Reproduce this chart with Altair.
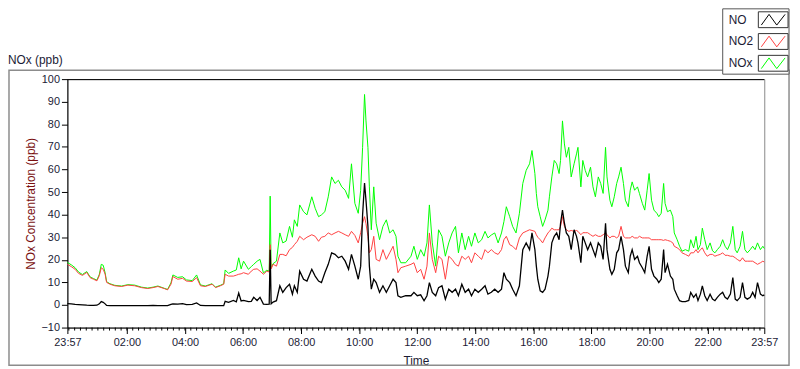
import altair as alt
import pandas as pd

# ---------------- data (minutes after 23:57, ppb) ----------------
t_min = [0, 8, 16, 23, 31, 40, 47, 54, 61, 66,
         70, 74, 78, 81, 88, 98, 112, 125, 139, 153,
         166, 177, 187, 200, 207, 214, 218, 228, 238, 246,
         258, 267, 275, 285, 299, 306, 316, 323, 326, 333,
         343, 349, 354, 359, 364, 374, 380, 385, 392, 398,
         405, 412, 417, 419, 421, 425, 432, 439, 445, 452,
         459, 465, 469, 475, 480, 488, 495, 505, 512, 519,
         525, 532, 539, 546, 553, 560, 567, 574, 581, 587,
         594, 601, 606, 610, 614, 617, 621, 624, 628, 633,
         638, 645, 652, 659, 666, 673, 679, 683, 689, 699,
         710, 716, 723, 730, 737, 743, 748, 754, 761, 767,
         774, 781, 788, 795, 802, 808, 815, 822, 829, 835,
         842, 849, 856, 863, 869, 876, 883, 890, 897, 902,
         907, 914, 920, 927, 934, 941, 948, 955, 960, 966,
         969, 972, 977, 982, 987, 993, 996, 1001, 1006, 1011,
         1016, 1019, 1023, 1027, 1031, 1036, 1041, 1047, 1052, 1055,
         1061, 1065, 1070, 1075, 1081, 1086, 1091, 1097, 1102, 1107,
         1112, 1115, 1121, 1125, 1130, 1135, 1139, 1144, 1149, 1153,
         1159, 1163, 1167, 1172, 1178, 1182, 1188, 1193, 1198, 1202,
         1207, 1212, 1218, 1222, 1227, 1232, 1235, 1240, 1246, 1251,
         1254, 1260, 1265, 1270, 1277, 1284, 1288, 1294, 1299, 1303,
         1308, 1312, 1317, 1322, 1328, 1333, 1338, 1343, 1349, 1354,
         1359, 1364, 1370, 1375, 1380, 1384, 1390, 1395, 1400, 1405,
         1411, 1416, 1421, 1426, 1432, 1437, 1440]

no_ppb = [0.6, 0.5, 0.3, 0.2, 0.1, -0.1, -0.2, -0.2, -0.1, 0.5,
          1.5, 1.2, 0.5, -0.2, -0.3, -0.3, -0.3, -0.3, -0.3, -0.3,
          -0.3, -0.2, -0.3, -0.3, -0.3, 0.3, 0.5, 0.4, 0.6, 0.2,
          0.3, 0.9, -0.2, -0.3, -0.3, -0.3, -0.3, -0.3, 1.6, 1.2,
          2.0, 1.4, 5.3, 1.8, 2.0, 1.5, 1.6, 3.4, 2.0, 3.4,
          0.4, 0.3, 0.4, 24.5, 0.5, 1.3, 1.9, 8.5, 5.6, 7.7,
          9.2, 4.8, 8.5, 5.6, 15.0, 11.4, 10.6, 15.8, 12.8, 10.6,
          9.9, 14.3, 18.0, 23.1, 22.4, 20.9, 21.6, 19.4, 15.8, 22.4,
          17.2, 11.4, 17.2, 40.0, 54.0, 46.4, 34.8, 17.2, 7.0, 11.4,
          9.9, 5.6, 8.5, 5.6, 8.5, 11.4, 9.9, 4.1, 3.4, 4.1,
          4.1, 5.6, 4.1, 4.5, 1.9, 4.1, 9.9, 5.6, 4.1, 7.7,
          8.5, 2.6, 7.0, 5.6, 7.0, 4.1, 9.2, 5.6, 7.0, 4.1,
          7.0, 5.6, 7.0, 8.5, 4.8, 5.6, 7.0, 5.6, 7.0, 14.3,
          11.4, 9.9, 7.0, 4.1, 8.5, 24.5, 27.5, 24.5, 31.9, 24.5,
          17.2, 11.4, 6.3, 5.6, 7.0, 12.8, 17.2, 27.5, 30.4, 31.9,
          28.9, 36.2, 42.0, 36.2, 31.9, 30.4, 24.5, 33.3, 30.4, 27.5,
          18.7, 30.4, 27.5, 24.5, 27.5, 24.5, 21.6, 27.5, 26.0, 20.2,
          36.2, 24.5, 15.8, 13.6, 15.8, 23.1, 24.5, 30.4, 24.5, 17.2,
          14.3, 21.6, 24.5, 20.2, 21.6, 18.7, 16.5, 14.3, 21.6, 26.0,
          15.8, 12.8, 11.4, 9.9, 11.4, 24.5, 14.3, 18.0, 12.8, 11.4,
          7.0, 4.1, 1.9, 1.5, 1.5, 2.0, 5.6, 3.4, 4.8, 2.0,
          4.8, 8.5, 4.1, 2.0, 4.8, 2.6, 1.9, 3.4, 4.8, 5.6,
          3.4, 2.6, 4.8, 12.1, 2.6, 1.9, 3.4, 9.9, 3.4, 2.6,
          3.4, 5.6, 3.4, 9.9, 4.8, 4.1, 4.5]

no2_ppb = [18.0, 17.0, 15.8, 14.0, 13.1, 14.4, 12.1, 11.4, 10.7, 13.0,
           16.5, 15.8, 13.6, 10.0, 9.2, 8.5, 8.2, 8.8, 8.5, 7.7,
           7.3, 7.7, 8.2, 7.3, 6.7, 9.2, 12.6, 11.4, 11.8, 10.6,
           10.4, 12.1, 8.5, 8.2, 9.2, 7.7, 8.5, 9.2, 13.6, 12.8,
           12.8, 13.2, 13.6, 13.8, 14.3, 13.6, 15.0, 15.8, 16.0, 15.0,
           13.6, 15.0, 14.6, 26.7, 16.0, 18.0, 17.2, 22.4, 22.4, 21.8,
           24.5, 25.5, 26.7, 28.2, 30.4, 28.9, 30.0, 31.1, 30.4, 28.2,
           30.0, 30.4, 31.9, 31.1, 31.9, 32.6, 31.9, 31.1, 30.4, 32.6,
           30.8, 27.5, 32.0, 36.2, 39.1, 36.0, 30.4, 23.1, 24.5, 30.4,
           20.2, 19.4, 24.5, 20.2, 23.1, 26.0, 20.2, 14.3, 16.5, 17.2,
           18.0, 18.7, 14.3, 15.8, 11.4, 17.2, 31.9, 20.2, 14.3, 21.6,
           20.2, 11.4, 21.6, 20.2, 18.0, 17.2, 21.6, 20.2, 21.6, 18.7,
           23.1, 21.6, 20.2, 24.5, 23.1, 24.5, 23.1, 22.4, 24.5, 28.9,
           30.4, 26.7, 26.0, 24.5, 29.7, 31.9, 32.6, 33.3, 33.0, 32.6,
           31.1, 30.0, 28.9, 27.5, 29.7, 31.9, 32.6, 34.0, 33.3, 33.3,
           33.3, 34.8, 39.1, 34.8, 33.3, 32.6, 33.0, 32.6, 33.0, 32.6,
           31.1, 32.0, 32.0, 32.0, 31.1, 30.4, 31.1, 30.4, 30.4, 31.1,
           32.0, 31.1, 29.7, 30.4, 30.4, 29.7, 30.4, 34.8, 30.4, 29.7,
           29.7, 29.7, 30.4, 29.7, 29.7, 30.4, 29.7, 29.7, 29.7, 29.7,
           28.9, 28.9, 28.9, 28.9, 28.9, 28.6, 28.9, 28.6, 28.2, 27.5,
           26.0, 25.3, 24.5, 23.1, 22.4, 21.6, 23.1, 23.1, 24.5, 23.1,
           24.5, 25.3, 23.1, 21.6, 22.4, 22.4, 21.6, 22.0, 22.4, 23.1,
           22.0, 22.0, 21.6, 21.6, 20.9, 20.2, 19.4, 20.9, 19.4, 19.4,
           19.4, 19.4, 18.7, 18.0, 18.7, 19.4, 19.0]

nox_ppb = [18.8, 17.8, 16.5, 14.6, 13.5, 14.8, 12.4, 11.7, 11.0, 13.6,
           18.0, 17.6, 14.2, 10.3, 9.4, 8.7, 8.4, 9.0, 8.8, 7.9,
           7.5, 7.9, 8.4, 7.4, 6.9, 9.8, 13.3, 12.2, 12.5, 11.1,
           10.8, 13.3, 8.9, 8.4, 9.4, 7.9, 8.7, 9.4, 15.5, 14.0,
           15.0, 15.5, 20.9, 16.0, 19.4, 15.8, 17.0, 18.0, 19.4, 20.2,
           14.2, 15.4, 15.0, 48.2, 16.5, 18.3, 19.4, 31.9, 27.5, 28.3,
           34.8, 30.0, 37.7, 34.8, 44.3, 41.3, 39.9, 47.9, 42.8, 39.1,
           39.9, 41.3, 47.9, 56.7, 53.8, 55.2, 52.3, 50.8, 47.2, 62.5,
           45.0, 40.6, 50.8, 69.8, 93.2, 81.5, 69.8, 52.3, 33.3, 52.3,
           36.2, 28.9, 34.8, 37.7, 31.9, 33.3, 30.4, 21.6, 18.7, 18.7,
           21.6, 26.0, 20.2, 24.5, 21.6, 27.5, 44.3, 27.5, 17.2, 33.3,
           30.4, 21.6, 27.5, 31.9, 34.8, 23.1, 31.9, 24.5, 30.4, 26.0,
           31.9, 27.5, 28.9, 32.6, 29.7, 31.0, 31.9, 27.5, 31.9, 36.9,
           43.5, 39.1, 34.8, 31.9, 40.6, 53.8, 59.6, 62.5, 68.4, 58.2,
           49.4, 43.5, 39.1, 34.8, 37.7, 42.0, 47.9, 56.7, 64.0, 62.5,
           58.2, 64.0, 81.5, 71.3, 65.4, 69.8, 56.7, 62.5, 66.9, 69.8,
           52.3, 64.0, 59.6, 56.7, 61.0, 52.3, 47.9, 56.7, 53.8, 49.4,
           69.8, 56.7, 46.4, 43.5, 47.9, 53.8, 56.7, 61.0, 53.8, 46.4,
           43.5, 50.8, 54.5, 50.8, 52.3, 49.4, 45.0, 42.0, 50.8, 58.2,
           46.4, 42.0, 40.6, 39.1, 40.6, 53.8, 45.0, 41.3, 42.0, 39.1,
           31.9, 28.9, 26.0, 23.8, 24.5, 23.8, 28.9, 25.3, 30.4, 24.5,
           26.7, 34.0, 28.9, 24.5, 27.5, 24.0, 23.1, 24.5, 26.0, 28.9,
           26.0, 24.5, 27.5, 34.8, 24.5, 23.1, 26.0, 32.6, 24.5, 23.1,
           24.5, 26.0, 24.5, 27.5, 24.5, 26.0, 25.0]

tick_vals = [0, 123, 243, 363, 483, 603, 723, 843, 963, 1083, 1203, 1323, 1440]
tick_labels = ["23:57", "02:00", "04:00", "06:00", "08:00", "10:00", "12:00",
               "14:00", "16:00", "18:00", "20:00", "22:00", "23:57"]
minor_ticks = list(range(3, 1440, 12))
y_ticks = list(range(-10, 101, 10))

series_names = ["NO", "NO2", "NOx"]
series_colors = ["#000000", "#ff4040", "#00ff00"]

# ---------------- chart ----------------
W, H = 704, 251
FONT = "Liberation Sans"
TXT = "#1b1b35"

df = pd.DataFrame({"t": t_min, "NO": no_ppb, "NO2": no2_ppb, "NOx": nox_ppb})
one = pd.DataFrame({"k": [0]})

x_scale = alt.Scale(domain=[0, 1440], nice=False, zero=False)
y_scale = alt.Scale(domain=[-10, 100], nice=False, zero=False)

label_expr = ("[" + ",".join("'%s'" % s for s in tick_labels) + "][indexof(["
              + ",".join(str(v) for v in tick_vals) + "], datum.value)]")

x_axis = alt.Axis(values=tick_vals, labelExpr=label_expr, title="Time",
                  titleX=W / 2, titleY=33, titleAlign="center", titleBaseline="middle",
                  titleFontWeight="normal", titleFontSize=12, titleColor=TXT, titleFont=FONT,
                  labelOverlap=False, labelFlush=False, labelBound=False,
                  tickSize=6, labelPadding=3, grid=False)
y_axis = alt.Axis(values=y_ticks, title="NOx Concentration (ppb)",
                  titleX=-37, titleY=H / 2, titleAlign="center", titleBaseline="middle",
                  titleFontWeight="normal", titleFontSize=12, titleColor="#7a1010", titleFont=FONT,
                  tickSize=6, labelPadding=2, grid=False)

frame = alt.Chart(one).mark_rect(fillOpacity=0, stroke="#8c8c8c", strokeWidth=1.5).encode(
    x=alt.value(-59), x2=alt.value(729), y=alt.value(-9), y2=alt.value(289))

base = alt.Chart(df)
lines = []
for name, col, sw in [("NOx", series_colors[2], 1), ("NO2", series_colors[1], 1), ("NO", series_colors[0], 1.3)]:
    lines.append(base.mark_line(color=col, strokeWidth=sw).encode(
        x=alt.X("t:Q", scale=x_scale, axis=x_axis),
        y=alt.Y(name + ":Q", scale=y_scale, axis=y_axis)))

top_rule = alt.Chart(one).mark_rule(color="black", strokeWidth=1).encode(
    x=alt.value(0), x2=alt.value(W), y=alt.value(0.5))

minor = alt.Chart(pd.DataFrame({"m": minor_ticks})).mark_rule(color="black").encode(
    x=alt.X("m:Q", scale=x_scale, axis=x_axis, title="Time"), y=alt.value(H), y2=alt.value(H + 3))

title_txt = alt.Chart(one).mark_text(align="left", baseline="middle", fontSize=12,
                                     font=FONT, color=TXT).encode(
    x=alt.value(-60), y=alt.value(-19), text=alt.value("NOx (ppb)"))

legend_layers = [alt.Chart(one).mark_rect(fill="white", stroke="#555555", strokeWidth=1).encode(
    x=alt.value(662), x2=alt.value(729), y=alt.value(-71), y2=alt.value(-5))]
zigzag = "M-1,0.45L-0.35,-0.45L0.3,0.45L1,-0.45"
for i, (nm, col) in enumerate(zip(series_names, series_colors)):
    cy = -60 + 22 * i
    legend_layers.append(alt.Chart(one).mark_rect(fill="white", stroke="#333333", strokeWidth=1).encode(
        x=alt.value(698), x2=alt.value(728), y=alt.value(cy - 8), y2=alt.value(cy + 8)))
    legend_layers.append(alt.Chart(one).mark_point(shape=zigzag, filled=False, stroke=col,
                                                   strokeWidth=1, size=576, opacity=1).encode(
        x=alt.value(713), y=alt.value(cy)))
    legend_layers.append(alt.Chart(one).mark_text(align="left", baseline="middle", fontSize=12,
                                                  font=FONT, color=TXT).encode(
        x=alt.value(668), y=alt.value(cy), text=alt.value(nm)))

chart = alt.layer(frame, *lines, top_rule, minor, title_txt, *legend_layers).properties(
    width=W, height=H,
    padding={"left": 60, "top": 70, "right": 28, "bottom": 40},
    autosize=alt.AutoSizeParams(type="none"),
    background="white",
).configure_view(stroke="#888888", strokeWidth=1).configure_axis(
    domainColor="black", tickColor="black", labelColor=TXT, labelFont=FONT,
    labelFontSize=11, domainWidth=1, tickWidth=1)

chart.save("out.html", embed_options={"renderer": "svg", "actions": False})
